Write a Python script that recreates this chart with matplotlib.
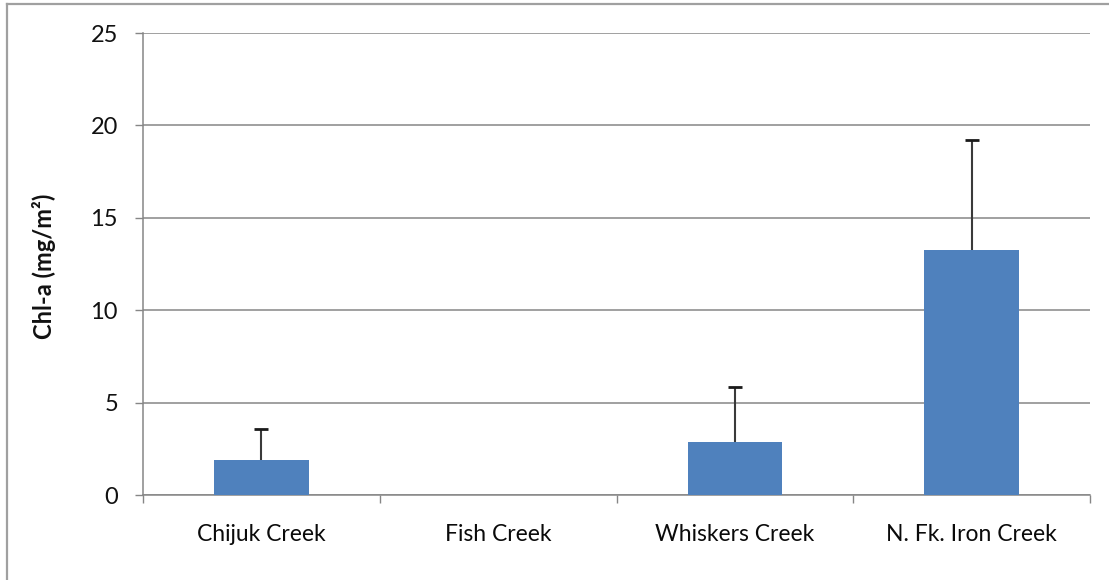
import matplotlib
matplotlib.use("Agg")
import matplotlib.pyplot as plt
from matplotlib.lines import Line2D

# Chlorophyll-a by creek (mean with upper error bar)
creeks = ["Chijuk Creek", "Fish Creek", "Whiskers Creek", "N. Fk. Iron Creek"]
chl_a = [1.88, 0.0, 2.89, 13.24]
chl_a_err = [1.70, 0.0, 2.95, 5.98]
y_ticks = [0, 5, 10, 15, 20, 25]

plt.rcParams["font.family"] = ["Lato", "DejaVu Sans"]

W, H = 1109, 580
fig = plt.figure(figsize=(W / 100, H / 100), dpi=100)
ax = fig.add_axes([143 / W, 1 - 495 / H, (1090 - 143) / W, (495 - 33) / H])

# chart frame: top and left edges only
border = dict(transform=fig.transFigure, color="#a0a0a0", linewidth=1.6)
fig.add_artist(Line2D([7 / W, 1], [1 - 4 / H, 1 - 4 / H], **border))
fig.add_artist(Line2D([7 / W, 7 / W], [0, 1 - 4 / H], **border))

x = list(range(len(creeks)))
ax.bar(x, chl_a, width=0.4, color="#4F81BD", zorder=3)

# upper-only error bars, skipping categories without data
ex = [xi for xi, e in zip(x, chl_a_err) if e > 0]
ey = [v for v, e in zip(chl_a, chl_a_err) if e > 0]
ee = [e for e in chl_a_err if e > 0]
ax.errorbar(ex, ey, yerr=[[0] * len(ee), ee], fmt="none",
            ecolor="#3a3a3a", elinewidth=1.5, capsize=0, zorder=4)
ax.plot(ex, [v + e for v, e in zip(ey, ee)], linestyle="none", marker="_",
        markersize=10, markeredgewidth=2.0, color="#1a1a1a", zorder=5)

ax.set_xlim(-0.5, len(creeks) - 0.5)
ax.set_ylim(0, 25)
ax.set_yticks(y_ticks)
ax.set_yticklabels([str(t) for t in y_ticks], fontsize=17, color="#111111")
ax.set_xticks(x)
ax.set_xticklabels(creeks, fontsize=16.5, color="#0a0a0a")

# category boundary ticks
ax.set_xticks([i + 0.5 for i in range(-1, len(creeks))], minor=True)
ax.tick_params(axis="x", which="major", length=0, pad=21)
ax.tick_params(axis="x", which="minor", length=6, color="#868686", width=1)
ax.tick_params(axis="y", length=6, color="#868686", width=1, pad=12)

ax.yaxis.grid(True, color="#868686", linewidth=1.1, zorder=0)
for s in ["top", "right"]:
    ax.spines[s].set_visible(False)
for s in ["left", "bottom"]:
    ax.spines[s].set_color("#868686")
    ax.spines[s].set_linewidth(1.1)

ax.set_ylabel("Chl-a (mg/m²)", fontsize=17, fontweight="bold", color="#111111")
ax.yaxis.set_label_coords(56 / W, 1 - 266 / H, transform=fig.transFigure)

fig.savefig("out.png", dpi=100)
